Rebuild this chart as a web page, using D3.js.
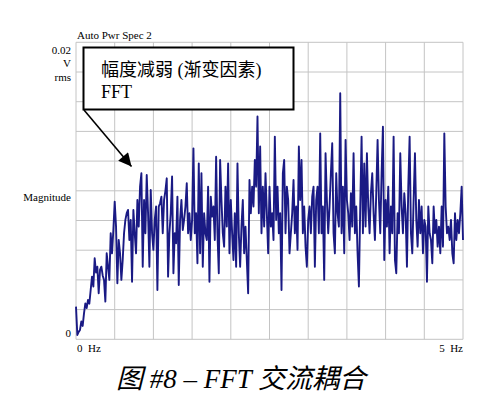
<!DOCTYPE html>
<html>
<head>
<meta charset="utf-8">
<script src="https://cdn.jsdelivr.net/npm/d3@7"></script>
<style>
  body { margin: 0; background: #fff; }
  svg text { font-family: "Liberation Serif", "Noto Sans CJK SC", serif; fill: #000; }
</style>
</head>
<body>
<div id="chart"></div>
<script>
// spectrum, mV rms, one bin after another
const magnitudesMv = [
  2.20, 0.29, 0.50, 0.63, 1.20, 0.90, 1.75, 2.42, 2.10, 2.65,
  2.40, 3.32, 4.22, 3.55, 5.46, 4.50, 4.89, 3.10, 4.67, 4.89,
  4.30, 4.00, 2.54, 5.79, 4.89, 4.00, 7.14, 5.79, 7.36,
  9.27, 7.59, 3.77, 6.69, 5.79, 4.00, 5.34, 7.14, 8.04, 8.49,
  8.71, 6.69, 8.04, 3.88, 8.71, 7.14, 5.79, 9.38, 7.59, 10.28,
  11.18, 4.89, 9.38, 7.14, 11.07, 8.49, 4.89, 10.06, 7.14, 6.02,
  8.04, 8.94, 3.32, 8.94, 9.16, 9.61, 7.14, 9.38, 10.0, 10.84,
  4.22, 7.14, 8.49, 10.96, 4.45, 7.14, 6.47, 9.61, 3.66,
  8.04, 9.38, 7.36, 8.04, 8.94, 10.51, 7.14, 8.49, 6.69, 8.04,
  12.86, 7.14, 8.49, 5.12, 11.85, 5.79, 11.18, 4.89, 8.49, 7.14,
  6.69, 10.28, 3.88, 9.61, 8.26, 8.94, 6.69, 12.30, 7.14, 4.45,
  12.08, 9.38, 7.14, 6.24, 10.28, 7.59, 11.85, 5.79, 9.38, 7.14,
  5.34, 8.49, 4.89, 11.85, 7.14, 4.89, 7.59, 9.38, 5.79, 7.59,
  5.34, 3.10, 10.73, 8.49, 10.28, 8.94, 12.08, 10.28, 15.00, 8.49,
  12.98, 7.14, 10.28, 7.59, 11.18, 8.49, 5.79, 10.28, 7.59, 8.49,
  6.69, 13.65, 8.04, 10.28, 7.14, 8.49, 3.32, 11.18, 12.08, 7.14,
  10.28, 9.38, 5.79, 7.14, 8.49, 10.73, 7.14, 8.94, 6.02, 12.98,
  9.38, 12.08, 7.14, 8.94, 6.24, 4.89, 8.04, 8.94, 7.14, 9.61,
  10.28, 4.89, 9.38, 10.28, 7.14, 13.87, 7.14, 8.94, 4.00, 12.53,
  9.38, 7.14, 8.94, 11.18, 13.20, 7.14, 5.79, 11.18, 8.49, 7.59,
  16.57, 7.14, 10.28, 5.79, 13.43, 9.38, 8.49, 6.69, 9.83, 7.59,
  12.53, 7.14, 8.94, 5.79, 3.55, 8.94, 13.65, 7.14, 11.85, 7.59,
  12.53, 8.94, 7.14, 9.83, 11.18, 8.49, 6.69, 9.83, 13.43, 9.38,
  7.14, 11.18, 14.32, 5.34, 9.38, 7.59, 10.28, 5.79, 8.94, 7.14,
  13.65, 5.34, 4.45, 8.49, 7.14, 12.53, 8.94, 7.14, 9.83, 8.49,
  4.89, 10.28, 13.65, 7.14, 5.79, 9.38, 12.53, 8.04, 6.24, 9.38,
  7.14, 8.94, 5.79, 8.04, 7.59, 3.88, 8.94, 7.14, 6.69, 5.12,
  8.94, 7.14, 8.04, 6.24, 7.59, 5.79, 8.94, 6.24, 13.87, 8.94,
  7.14, 7.59, 6.69, 8.04, 5.79, 5.12, 8.49, 6.69, 8.04, 7.14,
  8.49, 10.28, 6.69
];
const freqRange = [0, 5];          // Hz
const magRange = [0, 0.02];        // V rms
const freqTickLabels = ["0  Hz", "5  Hz"];
const magTickLabels = ["0", "0.02"];
const unitLabels = ["V", "rms"];
const calloutLines = ["幅度减弱 (渐变因素)", "FFT"];
const chartTitle = "Auto Pwr Spec 2";
const caption = "图 #8 – FFT 交流耦合";

const w = 483, h = 403;
const plotL = 76, plotR = 463, plotT = 42.3, plotB = 339.3;

const binHz = (freqRange[1] - freqRange[0]) / (magnitudesMv.length - 1);
const data = magnitudesMv.map((m, i) => ({ f: i * binHz, v: m / 1000 }));

var xScale = d3.scaleLinear().domain(freqRange).range([plotL, plotR]);
var yScale = d3.scaleLinear().domain(magRange).range([plotB, plotT]);

var svg = d3.select("#chart").append("svg")
  .attr("width", w).attr("height", h);

// grid, 10 x 10 divisions
svg.append("g")
  .selectAll("line")
  .data(d3.range(0, 11).map(i => freqRange[1] * i / 10))
  .enter().append("line")
  .attr("x1", d => xScale(d)).attr("x2", d => xScale(d))
  .attr("y1", plotT).attr("y2", plotB)
  .attr("stroke", "#c4c4c4").attr("stroke-width", 1);

svg.append("g")
  .selectAll("line")
  .data(d3.range(0, 11).map(i => magRange[1] * i / 10))
  .enter().append("line")
  .attr("x1", plotL).attr("x2", plotR)
  .attr("y1", d => yScale(d)).attr("y2", d => yScale(d))
  .attr("stroke", "#c4c4c4").attr("stroke-width", 1);

// spectrum trace
var line = d3.line().x(d => xScale(d.f)).y(d => yScale(d.v));
svg.append("path")
  .datum(data)
  .attr("d", line)
  .attr("fill", "none")
  .attr("stroke", "#1a1a84")
  .attr("stroke-width", 1.9)
  .attr("stroke-linejoin", "round");

// labels
svg.append("text")
  .attr("x", plotL + 1).attr("y", 39)
  .style("font-size", "11px")
  .text(chartTitle);

svg.append("text")
  .attr("x", 71).attr("y", yScale(magRange[1]) + 12)
  .attr("text-anchor", "end").style("font-size", "11px")
  .text(magTickLabels[1]);
unitLabels.forEach((t, i) => {
  svg.append("text")
    .attr("x", 71).attr("y", yScale(magRange[1]) + 25 + i * 14)
    .attr("text-anchor", "end").style("font-size", "11px")
    .text(t);
});
svg.append("text")
  .attr("x", 71).attr("y", yScale(magRange[0]) - 2)
  .attr("text-anchor", "end").style("font-size", "11px")
  .text(magTickLabels[0]);
svg.append("text")
  .attr("x", 71).attr("y", yScale(0.01) + 10)
  .attr("text-anchor", "end").style("font-size", "11px")
  .text("Magnitude");

svg.append("text")
  .attr("x", xScale(freqRange[0]) + 1).attr("y", 352)
  .style("font-size", "11px").style("white-space", "pre")
  .text(freqTickLabels[0]);
svg.append("text")
  .attr("x", xScale(freqRange[1])).attr("y", 352)
  .attr("text-anchor", "end")
  .style("font-size", "11px").style("white-space", "pre")
  .text(freqTickLabels[1]);

// callout box with arrow
svg.append("defs").append("marker")
  .attr("id", "head")
  .attr("viewBox", "0 0 10 10")
  .attr("refX", 10).attr("refY", 5)
  .attr("markerWidth", 15).attr("markerHeight", 13)
  .attr("markerUnits", "userSpaceOnUse")
  .attr("orient", "auto")
  .append("path")
  .attr("d", "M0,0 L10,5 L0,10 Z")
  .attr("fill", "#000");

svg.append("line")
  .attr("x1", 84).attr("y1", 110)
  .attr("x2", 131.5).attr("y2", 166.5)
  .attr("stroke", "#000").attr("stroke-width", 1.6)
  .attr("marker-end", "url(#head)");

svg.append("rect")
  .attr("x", 83.5).attr("y", 47.5)
  .attr("width", 210).attr("height", 62)
  .attr("fill", "#fff")
  .attr("stroke", "#000").attr("stroke-width", 2);

calloutLines.forEach((t, i) => {
  svg.append("text")
    .attr("x", 101).attr("y", 76 + i * 22)
    .style("font-size", "18px")
    .text(t);
});

svg.append("text")
  .attr("x", 241).attr("y", 388)
  .attr("text-anchor", "middle")
  .style("font-size", "27px").style("font-style", "italic")
  .text(caption);
</script>
</body>
</html>
